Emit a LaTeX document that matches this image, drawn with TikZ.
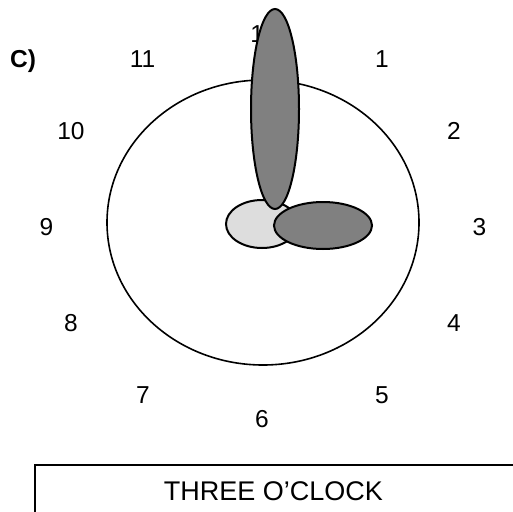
\documentclass[tikz,border=0pt]{standalone}
\usepackage{fontspec}
\setmainfont{Liberation Sans}
\begin{document}
\begin{tikzpicture}[x=1pt,y=-1pt,
  num/.style={anchor=base,inner sep=0pt,font=\fontsize{24.5}{28}\selectfont},
  hand/.style={draw=black,line width=2pt,fill=gray50},
]
\definecolor{gray50}{HTML}{808080}
\definecolor{lightg}{HTML}{DDDDDD}
\useasboundingbox (0,0) rectangle (513,511);
\clip (0,0) rectangle (513,511);
% clock face
\draw[line width=1.6pt] (263,222.5) ellipse [x radius=156, y radius=142.5];
% labels
\node[num,font=\fontsize{24.5}{28}\selectfont\bfseries] (lab) at (23,67) {C)};
\node[num] (n12) at (264,43) {12};
\node[num] (n11) at (142.5,67) {11};
\node[num] (n1) at (382,67) {1};
\node[num] (n10) at (71,139) {10};
\node[num] (n2) at (454,139) {2};
\node[num] (n9) at (46.5,235) {9};
\node[num] (n3) at (479.5,235) {3};
\node[num] (n8) at (71,331) {8};
\node[num] (n4) at (454,331) {4};
\node[num] (n7) at (143,403) {7};
\node[num] (n5) at (382,403) {5};
\node[num] (n6) at (262,427) {6};
% hands
\draw[line width=2pt,fill=lightg] (262,224) ellipse [x radius=36, y radius=24];
\draw[hand] (275,109) ellipse [x radius=24, y radius=100];
\draw[hand] (323,225.5) ellipse [x radius=49, y radius=23.5];
% caption box
\draw[line width=2pt] (35,600) -- (35,464.5) -- (600,464.5);
\node[anchor=base,inner sep=0pt,font=\fontsize{27}{30}\selectfont] (cap) at (273.5,500) {THREE O’CLOCK};
\end{tikzpicture}
\end{document}
